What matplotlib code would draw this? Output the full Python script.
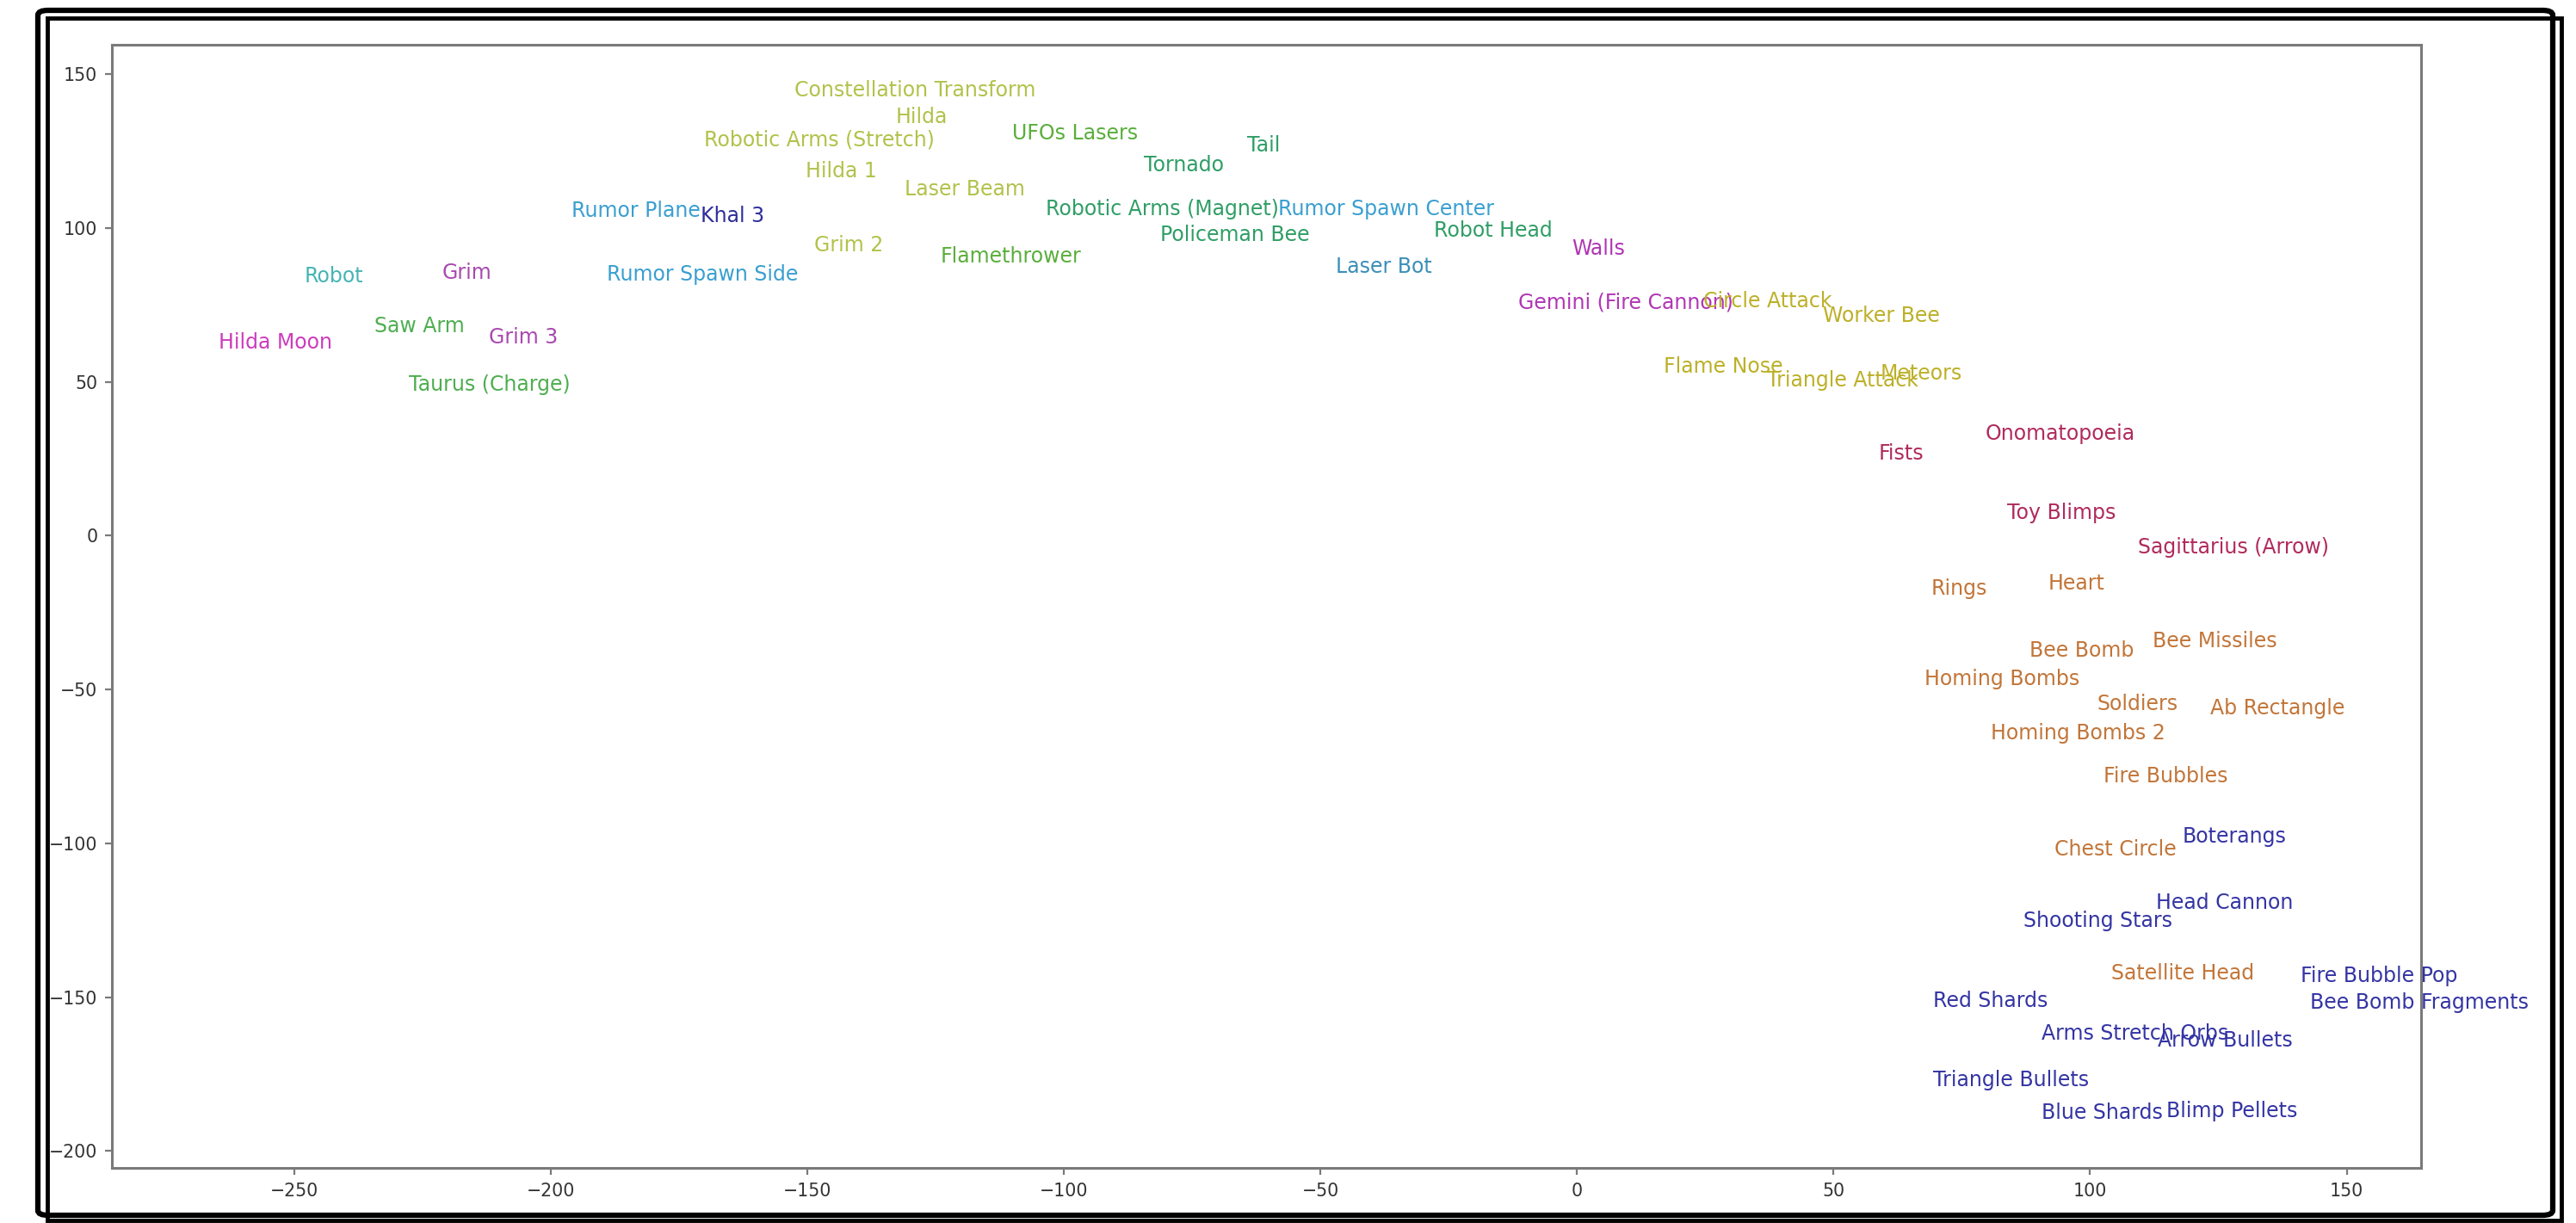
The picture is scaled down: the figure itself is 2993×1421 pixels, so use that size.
import matplotlib
matplotlib.use("Agg")
import matplotlib.pyplot as plt
from matplotlib.patches import Rectangle, FancyBboxPatch

labels = [
    "Constellation Transform", "Hilda", "Robotic Arms (Stretch)", "UFOs Lasers", "Tail",
    "Tornado", "Hilda 1", "Laser Beam", "Rumor Plane", "Khal 3",
    "Robotic Arms (Magnet)", "Rumor Spawn Center", "Robot Head", "Policeman Bee", "Walls",
    "Grim 2", "Flamethrower", "Laser Bot", "Robot", "Grim",
    "Rumor Spawn Side", "Gemini (Fire Cannon)", "Circle Attack", "Worker Bee", "Flame Nose",
    "Triangle Attack", "Meteors", "Onomatopoeia", "Fists", "Toy Blimps",
    "Sagittarius (Arrow)", "Rings", "Heart", "Bee Bomb", "Bee Missiles",
    "Homing Bombs", "Soldiers", "Ab Rectangle", "Homing Bombs 2", "Fire Bubbles",
    "Chest Circle", "Boterangs", "Head Cannon", "Shooting Stars", "Satellite Head",
    "Fire Bubble Pop", "Red Shards", "Bee Bomb Fragments", "Arms Stretch Orbs", "Arrow Bullets",
    "Triangle Bullets", "Blue Shards", "Blimp Pellets", "Hilda Moon", "Saw Arm",
    "Grim 3", "Taurus (Charge)",
]

x_vals = [
    -152.5, -132.7, -170.1, -110.0, -64.3,
    -84.4, -150.3, -131.1, -196.0, -170.7,
    -103.6, -58.2, -27.8, -81.2, -1.0,
    -148.7, -124.0, -47.0, -248.0, -221.2,
    -189.0, -11.5, 24.6, 48.0, 16.9,
    37.1, 59.1, 79.6, 58.8, 83.8,
    109.3, 69.0, 91.8, 88.2, 112.2,
    67.8, 101.3, 123.4, 80.6, 102.6,
    93.0, 118.0, 112.9, 87.0, 104.2,
    141.0, 69.4, 142.9, 90.5, 113.2,
    69.4, 90.5, 114.8, -264.7, -234.3,
    -212.0, -227.6,
]

y_vals = [
    142.6, 134.0, 126.5, 128.7, 124.9,
    118.5, 116.4, 110.5, 103.6, 102.0,
    104.1, 104.1, 97.2, 95.6, 91.3,
    92.4, 88.6, 85.4, 82.2, 83.3,
    82.8, 73.7, 74.2, 69.4, 52.9,
    48.6, 50.7, 31.0, 24.6, 5.3,
    -5.9, -19.2, -17.6, -39.5, -36.3,
    -48.6, -56.6, -58.2, -66.2, -80.1,
    -104.1, -99.8, -121.2, -127.1, -144.2,
    -145.2, -153.2, -153.8, -163.9, -166.0,
    -178.9, -189.5, -189.0, 60.9, 66.2,
    62.5, 47.0,
]

# cluster id for each label
clusters = [
    "ygreen", "ygreen", "ygreen", "green", "sea",
    "sea", "ygreen", "ygreen", "sky", "navy",
    "sea", "sky", "sea", "sea", "magenta",
    "ygreen", "green", "skyteal", "teal", "purple",
    "sky", "magenta", "yellow", "yellow", "yellow",
    "yellow", "yellow", "crimson", "crimson", "crimson",
    "crimson", "orange", "orange", "orange", "orange",
    "orange", "orange", "orange", "orange", "orange",
    "orange", "blue", "blue", "blue", "orange",
    "blue", "blue", "blue", "blue", "blue",
    "blue", "blue", "blue", "pink", "lgreen",
    "purple", "lgreen",
]

palette = {
    "ygreen": "#b2c24a",
    "green": "#5aae3c",
    "sea": "#2f9e66",
    "sky": "#3a9fd0",
    "skyteal": "#3a8fb8",
    "navy": "#2e2e9a",
    "magenta": "#b036b4",
    "teal": "#46b4b4",
    "purple": "#a848b0",
    "pink": "#cc3cbc",
    "lgreen": "#4eae50",
    "yellow": "#bcb028",
    "crimson": "#b02a5c",
    "orange": "#c27538",
    "blue": "#3434a4",
}

x_ticks = [-250, -200, -150, -100, -50, 0, 50, 100, 150]
y_ticks = [150, 100, 50, 0, -50, -100, -150, -200]

W, H = 2993, 1421
fig = plt.figure(figsize=(W / 100, H / 100), dpi=100)
fig.patch.set_facecolor("white")

ax = fig.add_axes([130 / W, 1 - 1357 / H, (2813 - 130) / W, (1357 - 52) / H])
ax.scatter(x_vals, y_vals, s=0)
for lab, xv, yv, c in zip(labels, x_vals, y_vals, clusters):
    ax.text(xv, yv, lab, color=palette[c], fontsize=17, family="DejaVu Sans")

ax.set_xlim(-285.5, 164.5)
ax.set_ylim(-205.5, 159.5)
ax.set_xticks(x_ticks)
ax.set_yticks(y_ticks)
for sp in ax.spines.values():
    sp.set_color("#7a7a7a")
    sp.set_linewidth(2.2)
ax.tick_params(axis="both", colors="#7a7a7a", labelcolor="#333333",
               labelsize=14.8, length=6, width=1.6, pad=6)

# outer document frame (double black border)
fig.patches.append(FancyBboxPatch((44 / W, 1 - 1412 / H), (2966 - 44) / W, (1412 - 12) / H,
                                  boxstyle="round,pad=0,rounding_size=0.004",
                                  transform=fig.transFigure, fill=False,
                                  edgecolor="black", linewidth=4.5))
fig.patches.append(Rectangle((55 / W, 1 - 1418 / H), (2976 - 55) / W, (1418 - 21) / H,
                             transform=fig.transFigure, fill=False,
                             edgecolor="black", linewidth=3.5))

fig.savefig("out.png", dpi=100)
